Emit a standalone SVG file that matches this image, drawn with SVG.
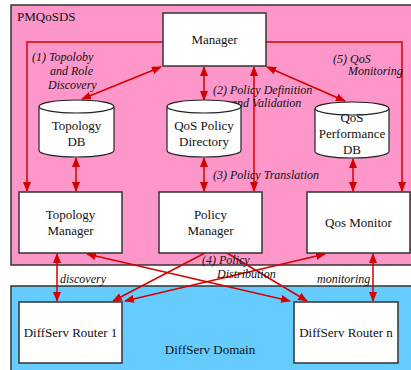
<svg xmlns="http://www.w3.org/2000/svg" width="411" height="370" viewBox="0 0 411 370">
<defs>
<style>
.t{font-family:"Liberation Serif","Times New Roman",serif;font-size:13px;fill:#111;text-anchor:middle}
.i{font-family:"Liberation Serif","Times New Roman",serif;font-size:12px;font-style:italic;fill:#111}
.box{fill:#fff;stroke:#333;stroke-width:1.5}
.cyl{fill:#fff;stroke:#222;stroke-width:1.2}
.c{fill:none;stroke:#d40000;stroke-width:1.5}
</style>
<marker id="ah" markerUnits="userSpaceOnUse" markerWidth="10" markerHeight="8" refX="9" refY="4" orient="auto-start-reverse">
<path d="M0,0 L10,4 L0,8 z" fill="#d40000"/>
</marker>
</defs>
<rect width="411" height="370" fill="#fff"/>
<rect id="pmqosds" x="11" y="5" width="410" height="260" fill="#fd97c9" stroke="#333" stroke-width="1.5"/>
<text class="t" x="17" y="21" style="text-anchor:start">PMQoSDS</text>
<rect id="domain" x="11" y="286" width="410" height="100" fill="#66ccff" stroke="#333" stroke-width="1.5"/>
<text class="t" x="210" y="354">DiffServ Domain</text>

<g id="connectors">
<path class="c" d="M163,42 H27 V191" marker-end="url(#ah)"/>
<path class="c" d="M266,42 H402 V191" marker-end="url(#ah)"/>
<line class="c" x1="161" y1="67" x2="82" y2="99" marker-start="url(#ah)" marker-end="url(#ah)"/>
<line class="c" x1="204" y1="67" x2="204" y2="100" marker-start="url(#ah)" marker-end="url(#ah)"/>
<line class="c" x1="267" y1="67" x2="345" y2="101" marker-start="url(#ah)" marker-end="url(#ah)"/>
<line class="c" x1="254" y1="67" x2="254" y2="191" marker-start="url(#ah)" marker-end="url(#ah)"/>
<line class="c" x1="76" y1="158" x2="76" y2="191" marker-start="url(#ah)" marker-end="url(#ah)"/>
<line class="c" x1="204" y1="158" x2="204" y2="191" marker-start="url(#ah)" marker-end="url(#ah)"/>
<line class="c" x1="353" y1="159" x2="353" y2="191" marker-start="url(#ah)" marker-end="url(#ah)"/>
<line class="c" x1="57" y1="254" x2="57" y2="301" marker-start="url(#ah)" marker-end="url(#ah)"/>
<line class="c" x1="373" y1="254" x2="373" y2="301" marker-start="url(#ah)" marker-end="url(#ah)"/>
<line class="c" x1="87" y1="254" x2="290" y2="301" marker-start="url(#ah)" marker-end="url(#ah)"/>
<line class="c" x1="205" y1="253" x2="113" y2="301" marker-end="url(#ah)"/>
<line class="c" x1="227" y1="253" x2="307" y2="301" marker-end="url(#ah)"/>
<line class="c" x1="125" y1="301" x2="325" y2="254" marker-start="url(#ah)" marker-end="url(#ah)"/>
</g>

<g id="labels">
<text class="i" x="32" y="61">(1) Topoloby</text>
<text class="i" x="50" y="75">and Role</text>
<text class="i" x="48" y="89">Discovery</text>
<text class="i" x="213" y="94">(2) Policy Definition</text>
<text class="i" x="231" y="107">and Validation</text>
<text class="i" x="213" y="179">(3) Policy Translation</text>
<text class="i" x="333" y="63">(5) QoS</text>
<text class="i" x="348" y="75">Monitoring</text>
<text class="i" x="202" y="264">(4) Policy</text>
<text class="i" x="217" y="278">Distribution</text>
<text class="i" x="60" y="283">discovery</text>
<text class="i" x="317" y="283">monitoring</text>
</g>

<g id="manager">
<rect class="box" x="163" y="13" width="103" height="53"/>
<text class="t" x="214.5" y="44">Manager</text>
</g>
<g id="topology-db">
<path class="cyl" d="M39,106.5 V150.5 A37.5,6.5 0 0 0 114,150.5 V106.5"/>
<ellipse class="cyl" cx="76.5" cy="106.5" rx="37.5" ry="6.5"/>
<text class="t" x="76.5" y="130">Topology</text>
<text class="t" x="76.5" y="146">DB</text>
</g>
<g id="qos-policy-directory">
<path class="cyl" d="M167,106.5 V150.5 A37,6.5 0 0 0 241,150.5 V106.5"/>
<ellipse class="cyl" cx="204" cy="106.5" rx="37" ry="6.5"/>
<text class="t" x="204" y="130">QoS Policy</text>
<text class="t" x="204" y="146">Directory</text>
</g>
<g id="qos-performance-db">
<path class="cyl" d="M315,108.5 V151.5 A37,6.5 0 0 0 389,151.5 V108.5"/>
<ellipse class="cyl" cx="352" cy="108.5" rx="37" ry="6.5"/>
<text class="t" x="352" y="122">QoS</text>
<text class="t" x="352" y="138">Performance</text>
<text class="t" x="352" y="154">DB</text>
</g>
<g id="topology-manager">
<rect class="box" x="19" y="192" width="103" height="61"/>
<text class="t" x="70.5" y="219">Topology</text>
<text class="t" x="70.5" y="235">Manager</text>
</g>
<g id="policy-manager">
<rect class="box" x="159" y="192" width="103" height="61"/>
<text class="t" x="210.5" y="219">Policy</text>
<text class="t" x="210.5" y="235">Manager</text>
</g>
<g id="qos-monitor">
<rect class="box" x="307" y="192" width="103" height="61"/>
<text class="t" x="358.5" y="227">Qos Monitor</text>
</g>
<g id="router-1">
<rect class="box" x="19" y="302" width="103" height="61"/>
<text class="t" x="70.5" y="337">DiffServ Router 1</text>
</g>
<g id="router-n">
<rect class="box" x="294" y="302" width="104" height="61"/>
<text class="t" x="346" y="337">DiffServ Router n</text>
</g>
</svg>
